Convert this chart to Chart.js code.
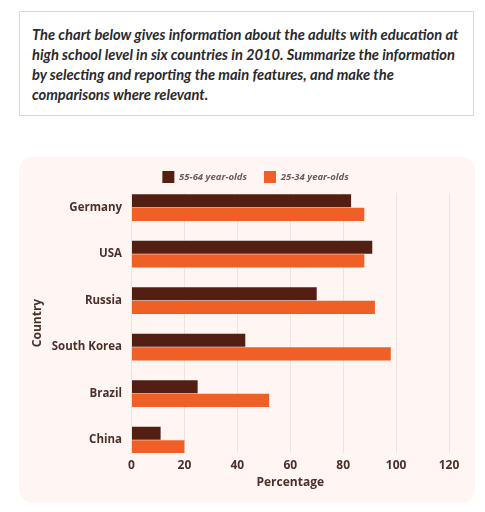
<!DOCTYPE html>
<html>
<head>
<meta charset="utf-8">
<script src="https://cdn.jsdelivr.net/npm/chart.js@4.4.0/dist/chart.umd.min.js"></script>
<style>
  html, body { margin: 0; padding: 0; background: #ffffff; }
  body { width: 485px; height: 512px; position: relative; overflow: hidden; }
  #q {
    position: absolute; left: 19px; top: 11px; width: 453px; height: 103px;
    border: 1px solid #d6d9de; box-sizing: content-box;
    font-family: "Lato", sans-serif; font-style: italic; font-weight: 700;
    font-size: 14.7px; line-height: 20px; color: #2a2a2e;
  }
  #q div { position: absolute; left: 12px; white-space: nowrap; }
  #card {
    position: absolute; left: 19px; top: 157px; width: 456px; height: 346px;
    background: #fff6f3; border-radius: 14px; overflow: hidden;
  }
  #card canvas { display: block; }
</style>
</head>
<body>
<div id="q">
  <div style="top:12px">The chart below gives information about the adults with education at</div>
  <div style="top:32px">high school level in six countries in 2010. Summarize the information</div>
  <div style="top:52px">by selecting and reporting the main features, and make the</div>
  <div style="top:72px">comparisons where relevant.</div>
</div>
<div id="card"><canvas id="c" width="456" height="346"></canvas></div>
<script>
const categories = ["Germany", "USA", "Russia", "South Korea", "Brazil", "China"];
const seriesNames = ["55-64 year-olds", "25-34 year-olds"];
const older = [83, 91, 70, 43, 25, 11];
const younger = [88, 88, 92, 98, 52, 20];
const xTicks = [0, 20, 40, 60, 80, 100, 120];

const labelColor = "#4b2f29";
const fontFam = "'Open Sans', sans-serif";
const toPoints = (arr) => arr.map((v, i) => ({ x: v, y: i }));

const legendShift = {
  id: "legendShift",
  afterLayout(chart) { chart.legend.left += 43; }
};

new Chart(document.getElementById("c"), {
  type: "bar",
  data: {
    datasets: [
      { label: seriesNames[0], data: toPoints(older), backgroundColor: "#521f12",
        barPercentage: 0.95, categoryPercentage: 0.59 },
      { label: seriesNames[1], data: toPoints(younger), backgroundColor: "#f06026",
        barPercentage: 0.95, categoryPercentage: 0.59 }
    ]
  },
  plugins: [legendShift],
  options: {
    indexAxis: "y",
    responsive: false,
    animation: false,
    devicePixelRatio: 1,
    layout: { padding: { left: 0, right: 26, top: -3, bottom: 10.8 } },
    plugins: {
      tooltip: { enabled: false },
      legend: {
        display: true,
        position: "top",
        labels: {
          boxWidth: 12, boxHeight: 12, padding: 17,
          color: "#6a5a56",
          font: { family: fontFam, size: 9.5, style: "italic", weight: "bold" }
        }
      }
    },
    scales: {
      x: {
        type: "linear",
        min: 0, max: 120,
        afterBuildTicks: (s) => { s.ticks = xTicks.map(v => ({ value: v })); },
        grid: { color: "#f0e3de", drawTicks: false },
        border: { display: false },
        ticks: { color: labelColor, padding: 5, font: { family: fontFam, size: 12, weight: "bold" } },
        title: { display: true, text: "Percentage", color: labelColor,
                 padding: { top: -1.6, bottom: 2 },
                 font: { family: fontFam, size: 12, weight: "bold" } }
      },
      y: {
        type: "linear",
        reverse: true,
        offset: false,
        bounds: "data",
        min: -0.312, max: 5.279,
        afterBuildTicks: (s) => { s.ticks = categories.map((c, i) => ({ value: i })); },
        afterFit: (s) => { s.width = 112.5; },
        grid: { display: false, drawTicks: false },
        border: { display: false },
        ticks: { color: labelColor, padding: 9.5,
                 callback: (v) => categories[v],
                 font: { family: fontFam, size: 11.5, weight: "bold" } },
        title: { display: true, text: "Country", color: labelColor,
                 padding: { top: 11.8, bottom: 0 },
                 font: { family: fontFam, size: 12, weight: "bold" } }
      }
    }
  }
});
</script>
</body>
</html>
